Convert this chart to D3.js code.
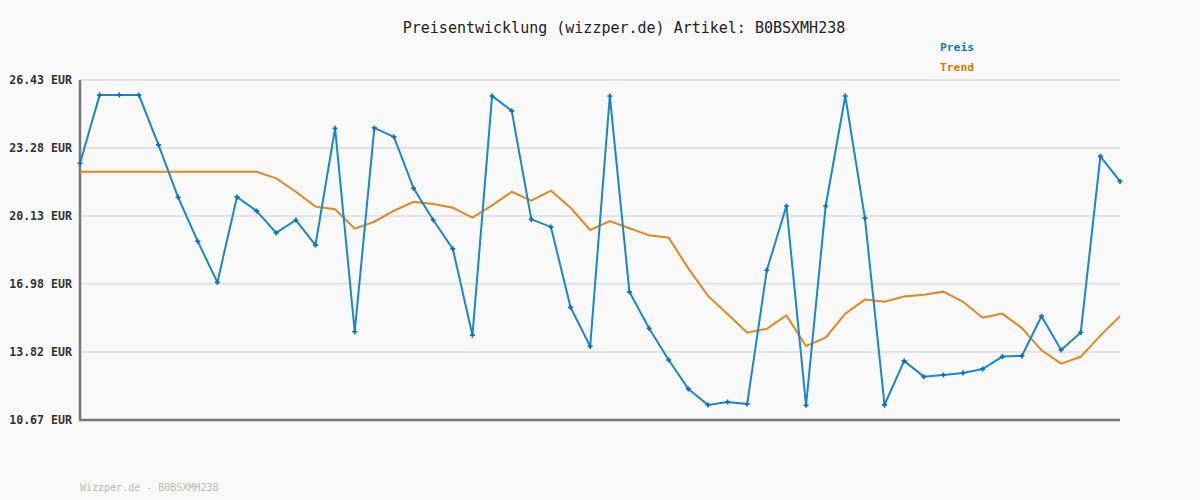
<!DOCTYPE html>
<html><head><meta charset="utf-8">
<script src="https://cdn.jsdelivr.net/npm/d3@7"></script>
<style>
html,body{margin:0;padding:0;background:#f9f9f9;}
svg{display:block;}
</style></head>
<body>
<svg id="c" width="1200" height="500"></svg>
<script>
const titleText = "Preisentwicklung (wizzper.de) Artikel: B0BSXMH238";
const footerText = "Wizzper.de - B0BSXMH238";
const seriesNames = ["Preis", "Trend"];
const yTicks = [10.67, 13.82, 16.98, 20.13, 23.28, 26.43];
const preis = [22.57,25.73,25.73,25.73,23.42,20.99,18.95,17.05,21.01,20.36,
  19.34,19.94,18.78,24.19,14.76,24.21,23.79,21.41,19.94,18.60,
  14.60,25.69,25.00,19.97,19.62,15.89,14.08,25.69,16.60,14.92,
  13.45,12.11,11.37,11.50,11.41,17.61,20.59,11.35,20.59,25.69,
  20.03,11.37,13.41,12.68,12.76,12.85,13.03,13.61,13.64,15.48,
  13.92,14.73,22.89,21.73];
const trend = [22.18,22.18,22.18,22.18,22.18,22.18,22.18,22.18,22.18,22.18,
  21.87,21.25,20.56,20.44,19.54,19.86,20.37,20.78,20.68,20.51,
  20.05,20.62,21.25,20.84,21.30,20.51,19.48,19.89,19.56,19.23,
  19.12,17.70,16.42,15.58,14.72,14.90,15.52,14.10,14.49,15.60,
  16.25,16.15,16.39,16.48,16.62,16.15,15.41,15.60,14.93,13.90,
  13.28,13.60,14.58,15.48];

const svg = d3.select("#c");
const L = 80, R = 1120, T = 80, B = 420;
const x = d3.scaleLinear().domain([0, preis.length - 1]).range([L, R]);
const y = d3.scaleLinear().domain([10.67, 26.43]).range([B, T]);
const mono = "'DejaVu Sans Mono', monospace";

svg.append("rect").attr("width",1200).attr("height",500).attr("fill","#f9f9f9");

// grid
svg.append("g").selectAll("line").data(yTicks).join("line")
  .attr("x1", L).attr("x2", R)
  .attr("y1", d => y(d)).attr("y2", d => y(d))
  .attr("stroke", "#e3e3e3").attr("stroke-width", 2);

// y labels
const yAxis = d3.axisLeft(y).tickValues(yTicks).tickSize(0).tickPadding(8)
  .tickFormat(d => d.toFixed(2) + " EUR");
const ga = svg.append("g").attr("transform", `translate(${L},0)`).call(yAxis);
ga.select(".domain").remove();
ga.selectAll("text").attr("font-family", mono).attr("font-size", 11.6)
  .attr("font-weight", "bold").attr("fill", "#333");

// axes lines
svg.append("line").attr("x1", L).attr("x2", L).attr("y1", T).attr("y2", B+1)
  .attr("stroke", "#777").attr("stroke-width", 2.5);
svg.append("line").attr("x1", L-1).attr("x2", R).attr("y1", B).attr("y2", B)
  .attr("stroke", "#777").attr("stroke-width", 2.5);

const line = d3.line().x((d,i) => x(i)).y(d => y(d));

svg.append("path").datum(trend).attr("d", line).attr("fill","none")
  .attr("stroke", "#e0891f").attr("stroke-width", 2);
svg.append("path").datum(preis).attr("d", line).attr("fill","none")
  .attr("stroke", "#1a86d0").attr("stroke-width", 2);

// markers
const sym = d3.symbol().type(d3.symbolCross).size(14);
svg.append("g").selectAll("path").data(preis).join("path")
  .attr("d", sym).attr("transform", (d,i) => `translate(${x(i)},${y(d)})`)
  .attr("fill", "#0a6fc0");

// title
svg.append("text").attr("x", 624).attr("y", 33).attr("text-anchor","middle")
  .attr("font-family", mono).attr("font-size", 15).attr("fill", "#222")
  .text(titleText);

// legend
const legColors = ["#0a78c8", "#dd7700"];
svg.append("g").selectAll("text").data(seriesNames).join("text")
  .attr("x", 940).attr("y", (d,i) => 51 + i*20)
  .attr("font-family", mono).attr("font-size", 11.3).attr("font-weight","bold")
  .attr("fill", (d,i) => legColors[i]).text(d => d);

// footer
svg.append("text").attr("x", 80).attr("y", 491)
  .attr("font-family", mono).attr("font-size", 10).attr("fill", "#bbb")
  .text(footerText);
</script>
</body></html>
